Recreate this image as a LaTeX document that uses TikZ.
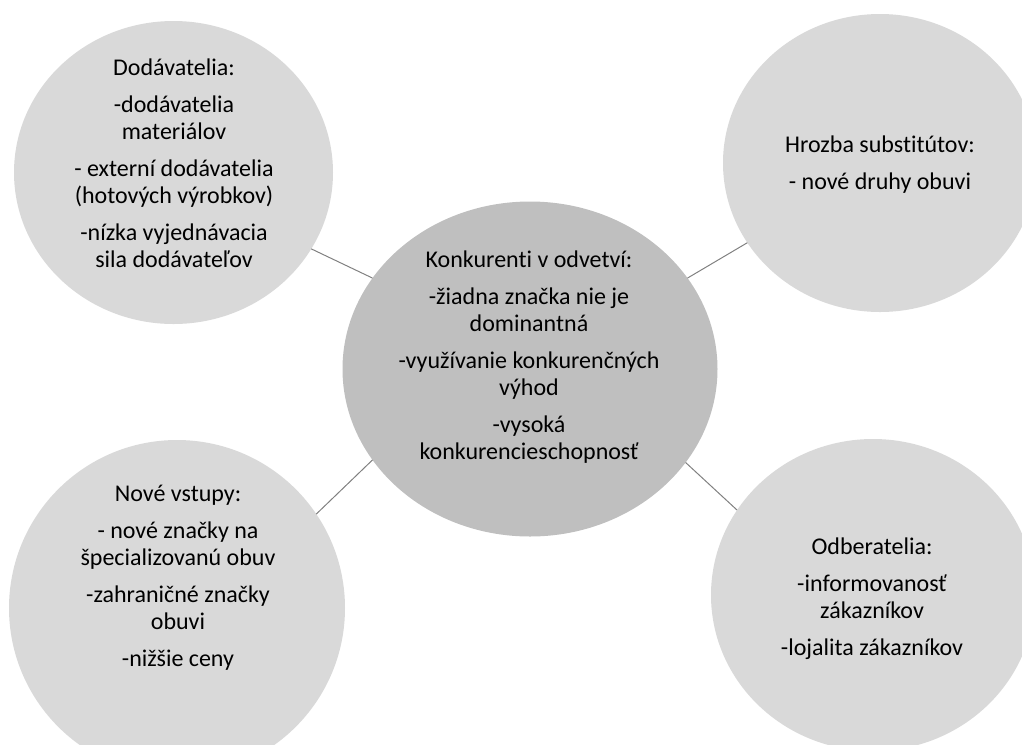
\documentclass[tikz,border=0pt]{standalone}
\usepackage{fontspec}
\setmainfont[Ligatures=NoCommon]{Carlito}
\usepackage{xcolor}
\usepackage{tikz}
\usetikzlibrary{shapes,positioning,calc}
\definecolor{outergray}{HTML}{D9D9D9}
\definecolor{innergray}{HTML}{BFBFBF}
\definecolor{linegray}{HTML}{808080}

\begin{document}
\begin{tikzpicture}[x=0.75pt, y=-0.75pt,
    bubble/.style={ellipse, fill=outergray, draw=none, inner sep=0pt, outer sep=0pt},
    hub/.style={ellipse, fill=innergray, draw=none, inner sep=0pt, outer sep=0pt},
    txt/.style={align=center, font=\fontsize{18}{20.25}\selectfont, text=black, inner sep=0pt},
    spoke/.style={draw=linegray, line width=0.75pt}]
    \useasboundingbox (0,0) rectangle (1022,744);
    \clip (0,0) rectangle (1022,744);

    % the five bubbles
    \node[bubble, minimum width=239.25pt, minimum height=227.25pt] (supp) at (173.5,172.5) {};
    \node[bubble, minimum width=235.5pt, minimum height=223.5pt] (subst) at (880,163) {};
    \node[hub, minimum width=281.25pt, minimum height=251.25pt] (hub) at (530,369) {};
    \node[bubble, minimum width=252pt, minimum height=252pt] (entry) at (177,608) {};
    \node[bubble, minimum width=243pt, minimum height=234pt] (buyer) at (873,595) {};

    % spokes
    \draw[spoke] (hub.150) -- (supp.-29);
    \draw[spoke] (hub.30) -- (subst.-149);
    \draw[spoke] (hub.-150) -- (entry.34);
    \draw[spoke] (hub.-31) -- (buyer.148);

    % texts
    \node[txt] (supptext) at (174,163) {Dodávatelia:\\[7.5pt]
        -dodávatelia\\ materiálov\\[7.5pt]
        - externí dodávatelia\\ (hotových výrobkov)\\[7.5pt]
        -nízka vyjednávacia\\ sila dodávateľov};
    \node[txt] (substtext) at (880,165) {Hrozba substitútov:\\[7.5pt]
        - nové druhy obuvi};
    \node[txt] (hubtext) at (529,357) {Konkurenti v odvetví:\\[7.5pt]
        -žiadna značka nie je\\ dominantná\\[7.5pt]
        -využívanie konkurenčných\\ výhod\\[7.5pt]
        -vysoká\\ konkurencieschopnosť};
    \node[txt] (entrytext) at (178,578) {Nové vstupy:\\[7.5pt]
        - nové značky na\\ špecializovanú obuv\\[7.5pt]
        -zahraničné značky\\ obuvi\\[7.5pt]
        -nižšie ceny};
    \node[txt] (buyertext) at (872,599) {Odberatelia:\\[7.5pt]
        -informovanosť\\ zákazníkov\\[7.5pt]
        -lojalita zákazníkov};
\end{tikzpicture}
\end{document}
